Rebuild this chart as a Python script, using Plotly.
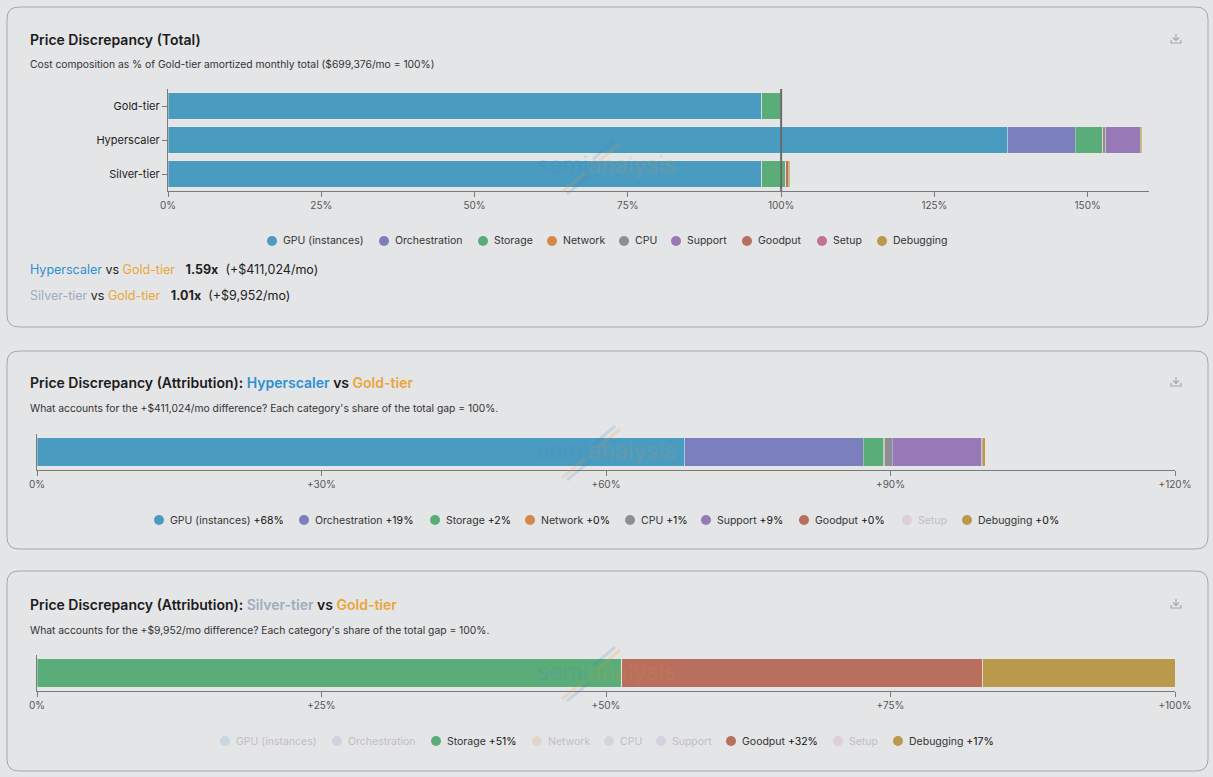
import plotly.graph_objects as go

W, H = 1213, 777
FONT = "Inter"

# ---------------- data ----------------
categories = ["GPU (instances)", "Orchestration", "Storage", "Network", "CPU",
              "Support", "Goodput", "Setup", "Debugging"]
colors = ["#4a9bc0", "#7b7fbd", "#5aad79", "#d4894b", "#8b8e94",
          "#9679b6", "#b86f5e", "#c4708f", "#b99a4d"]
tiers = ["Gold-tier", "Hyperscaler", "Silver-tier"]

# % of Gold-tier monthly total, per category
gold_pct = [96.87, 0.0, 3.08, 0.02, 0.03, 0.0, 0.0, 0.0, 0.0]
hyper_pct = [136.95, 11.05, 4.37, 0.08, 0.50, 5.60, 0.03, 0.0, 0.25]
silver_pct = [96.87, 0.0, 3.81, 0.02, 0.03, 0.0, 0.45, 0.0, 0.24]

# share of total gap (%), per category
hs_gap_share = [68.3, 18.8, 2.2, 0.1, 0.8, 9.4, 0.05, 0.0, 0.35]
sv_gap_share = [0.0, 0.0, 51.4, 0.0, 0.0, 0.0, 31.7, 0.0, 16.9]

p1_ticks = [0, 25, 50, 75, 100, 125, 150]
p1_ticktext = ["0%", "25%", "50%", "75%", "100%", "125%", "150%"]
p2_ticks = [0, 30, 60, 90, 120]
p2_ticktext = ["0%", "+30%", "+60%", "+90%", "+120%"]
p3_ticks = [0, 25, 50, 75, 100]
p3_ticktext = ["0%", "+25%", "+50%", "+75%", "+100%"]

# ---------------- helpers ----------------
def px(x):
    return x / W

def py(y):
    return 1 - y / H

BLUE_T = "#2f8fd3"
GOLD_T = "#eaa63a"
SILV_T = "#9eacbf"

fig = go.Figure()

seg_line = dict(color="rgba(235,235,235,0.6)", width=0.6)
for i, c in enumerate(categories):
    fig.add_trace(go.Bar(
        x=[gold_pct[i], hyper_pct[i], silver_pct[i]], y=tiers, orientation="h",
        marker=dict(color=colors[i], line=seg_line),
        name=c, showlegend=False, xaxis="x", yaxis="y"))
for i, c in enumerate(categories):
    fig.add_trace(go.Bar(
        x=[hs_gap_share[i]], y=["gap"], orientation="h",
        marker=dict(color=colors[i], line=seg_line),
        name=c, showlegend=False, xaxis="x2", yaxis="y2"))
for i, c in enumerate(categories):
    fig.add_trace(go.Bar(
        x=[sv_gap_share[i]], y=["gap"], orientation="h",
        marker=dict(color=colors[i], line=seg_line),
        name=c, showlegend=False, xaxis="x3", yaxis="y3"))

axis_line = "#7a7a7a"
tickfont = dict(family=FONT, size=10, color="#555")

def xax(domain, rng, tv, tt, anchor):
    return dict(domain=domain, range=rng, tickvals=tv, ticktext=tt, ticks="outside",
                ticklen=5, tickcolor=axis_line, showline=True, linecolor=axis_line,
                linewidth=1.2, showgrid=False, zeroline=False, tickfont=tickfont,
                anchor=anchor, fixedrange=True, automargin=False)

shapes = []
annotations = []

def card(y0, y1, x0=7, x1=1208, r=12):
    path = (f"M {px(x0+r)},{py(y0)} L {px(x1-r)},{py(y0)} Q {px(x1)},{py(y0)} {px(x1)},{py(y0+r)} "
            f"L {px(x1)},{py(y1-r)} Q {px(x1)},{py(y1)} {px(x1-r)},{py(y1)} "
            f"L {px(x0+r)},{py(y1)} Q {px(x0)},{py(y1)} {px(x0)},{py(y1-r)} "
            f"L {px(x0)},{py(y0+r)} Q {px(x0)},{py(y0)} {px(x0+r)},{py(y0)} Z")
    shapes.append(dict(type="path", path=path, xref="paper", yref="paper",
                       line=dict(color="#a6a6a6", width=1), fillcolor="rgba(0,0,0,0)", layer="below"))

card(7, 327)
card(351, 549)
card(571, 771)

def dl_icon(cx, cy):
    c = "#a8a8a8"
    shapes.append(dict(type="path", xref="paper", yref="paper",
                       path=f"M {px(cx-5)},{py(cy+1)} L {px(cx-5)},{py(cy+4)} L {px(cx+5)},{py(cy+4)} L {px(cx+5)},{py(cy+1)}",
                       line=dict(color=c, width=1.2)))
    shapes.append(dict(type="line", xref="paper", yref="paper", x0=px(cx), x1=px(cx),
                       y0=py(cy-5), y1=py(cy+1.5), line=dict(color=c, width=1.2)))
    shapes.append(dict(type="path", xref="paper", yref="paper",
                       path=f"M {px(cx-3)},{py(cy-1.5)} L {px(cx)},{py(cy+1.5)} L {px(cx+3)},{py(cy-1.5)}",
                       line=dict(color=c, width=1.2)))

dl_icon(1176, 39)
dl_icon(1176, 382)
dl_icon(1176, 604)

def title(y, text, sub, sub_y):
    annotations.append(dict(text=text, x=px(28), y=py(y), xref="paper", yref="paper",
                            xanchor="left", yanchor="middle", showarrow=False,
                            font=dict(family=FONT, size=14, color="#1b1b1b", weight=600)))
    annotations.append(dict(text=sub, x=px(28), y=py(sub_y), xref="paper", yref="paper",
                            xanchor="left", yanchor="middle", showarrow=False,
                            font=dict(family=FONT, size=10.3, color="#333")))

title(39, "Price Discrepancy (Total)",
      "Cost composition as % of Gold-tier amortized monthly total ($699,376/mo = 100%)", 64)
title(382, f"Price Discrepancy (Attribution): <span style='color:{BLUE_T}'>Hyperscaler</span> vs "
           f"<span style='color:{GOLD_T}'>Gold-tier</span>",
      "What accounts for the +$411,024/mo difference? Each category's share of the total gap = 100%.", 408)
title(604, f"Price Discrepancy (Attribution): <span style='color:{SILV_T}'>Silver-tier</span> vs "
           f"<span style='color:{GOLD_T}'>Gold-tier</span>",
      "What accounts for the +$9,952/mo difference? Each category's share of the total gap = 100%.", 630)

summary = [
    (269, f"<span style='color:{BLUE_T}'>Hyperscaler</span> vs <span style='color:{GOLD_T}'>Gold-tier</span>"
          f"   <b>1.59x</b>  (+$411,024/mo)"),
    (295, f"<span style='color:{SILV_T}'>Silver-tier</span> vs <span style='color:{GOLD_T}'>Gold-tier</span>"
          f"   <b>1.01x</b>  (+$9,952/mo)"),
]
for yy, t in summary:
    annotations.append(dict(text=t, x=px(28), y=py(yy), xref="paper", yref="paper",
                            xanchor="left", yanchor="middle", showarrow=False,
                            font=dict(family=FONT, size=12.5, color="#222")))

def legend(y, xs, labels, faded):
    for x, lab, col, f in zip(xs, labels, colors, faded):
        shapes.append(dict(type="circle", xref="paper", yref="paper",
                           x0=px(x-5), x1=px(x+5), y0=py(y+5), y1=py(y-5),
                           fillcolor=col, opacity=0.18 if f else 1.0,
                           line=dict(width=0)))
        annotations.append(dict(text=lab, x=px(x+9), y=py(y), xref="paper", yref="paper",
                                xanchor="left", yanchor="middle", showarrow=False,
                                font=dict(family=FONT, size=10.5, color="#c0c0c0" if f else "#333")))

leg1_x = [272, 384, 483, 552, 624, 676, 747, 822, 882]
leg2_x = [159, 304, 435, 530, 630, 706, 804, 907, 967]
leg3_x = [225, 337, 436, 537, 609, 661, 731, 838, 898]

legend(241, leg1_x, categories, [False] * len(categories))

def share_labels(shares):
    out = []
    for c, v in zip(categories, shares):
        if v == 0:
            out.append(c)
        else:
            out.append(f"{c} <span style='color:#111'>+{round(v):.0f}%</span>")
    return out

legend(520, leg2_x, share_labels(hs_gap_share), [v == 0 for v in hs_gap_share])
legend(741, leg3_x, share_labels(sv_gap_share), [v == 0 for v in sv_gap_share])

shapes.append(dict(type="line", xref="x", yref="y domain", x0=100, x1=100, y0=0, y1=1,
                   line=dict(color="#6a6a6a", width=2), layer="above"))

def watermark(cx, cy):
    annotations.append(dict(text="<span style='color:#3f86c4'>semi</span><span style='color:#e8903a'>analysis</span>",
                            x=px(cx), y=py(cy), xref="paper", yref="paper", showarrow=False,
                            xanchor="center", yanchor="middle", opacity=0.16,
                            font=dict(family=FONT, size=23)))
    shapes.append(dict(type="line", xref="paper", yref="paper", x0=px(cx-45), y0=py(cy+27),
                       x1=px(cx-22), y1=py(cy+8), line=dict(color="rgba(232,150,60,0.18)", width=3)))
    shapes.append(dict(type="line", xref="paper", yref="paper", x0=px(cx-40), y0=py(cy+29),
                       x1=px(cx-18), y1=py(cy+11), line=dict(color="rgba(63,134,196,0.18)", width=3)))
    shapes.append(dict(type="line", xref="paper", yref="paper", x0=px(cx-8), y0=py(cy-4),
                       x1=px(cx+13), y1=py(cy-22), line=dict(color="rgba(232,150,60,0.18)", width=3)))
    shapes.append(dict(type="line", xref="paper", yref="paper", x0=px(cx-14), y0=py(cy-6),
                       x1=px(cx+8), y1=py(cy-25), line=dict(color="rgba(63,134,196,0.18)", width=3)))

watermark(607, 165)
watermark(607, 451)
watermark(607, 672)

fig.update_layout(
    width=W, height=H, margin=dict(l=0, r=0, t=0, b=0, pad=0, autoexpand=False),
    paper_bgcolor="#e4e5e7", plot_bgcolor="rgba(0,0,0,0)",
    barmode="stack", bargap=0.22, showlegend=False,
    font=dict(family=FONT),
    xaxis=xax([px(168), px(1149)], [0, 160], p1_ticks, p1_ticktext, "y"),
    yaxis=dict(domain=[py(191), py(89)], categoryorder="array", categoryarray=tiers,
               autorange="reversed", showline=True, linecolor=axis_line, linewidth=1.2,
               ticks="outside", ticklen=5, tickcolor=axis_line, showgrid=False,
               tickfont=dict(family=FONT, size=11, color="#222"), anchor="x",
               fixedrange=True, automargin=False),
    xaxis2=xax([px(37), px(1175)], [0, 120], p2_ticks, p2_ticktext, "y2"),
    yaxis2=dict(domain=[py(470), py(434)], showline=True, linecolor=axis_line, linewidth=1.2,
                showticklabels=False, ticks="", showgrid=False, anchor="x2",
                fixedrange=True, automargin=False),
    xaxis3=xax([px(37), px(1175)], [0, 100], p3_ticks, p3_ticktext, "y3"),
    yaxis3=dict(domain=[py(691), py(655)], showline=True, linecolor=axis_line, linewidth=1.2,
                showticklabels=False, ticks="", showgrid=False, anchor="x3",
                fixedrange=True, automargin=False),
    shapes=shapes, annotations=annotations,
)

fig.write_html("out.html", config={"displayModeBar": False},
               post_script="document.body.style.margin='0';document.body.style.overflow='hidden';"
                           "document.documentElement.style.overflow='hidden';")
